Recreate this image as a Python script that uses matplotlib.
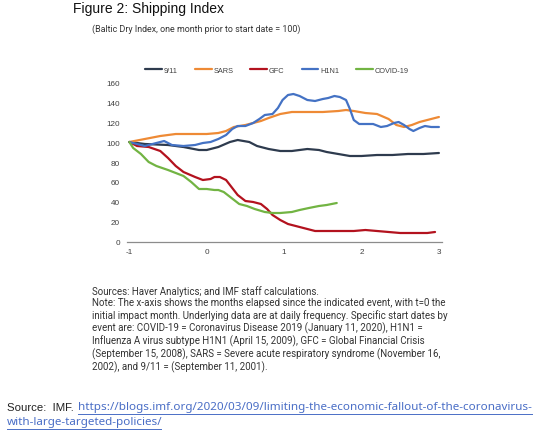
import matplotlib
matplotlib.use("Agg")
import matplotlib.pyplot as plt
import numpy as np

# ---- data (months since event, index value) ----
x_911 = [-1, -0.8, -0.5, -0.3, -0.1, 0, 0.15, 0.3, 0.4, 0.55, 0.65, 0.8, 0.95, 1.1, 1.2, 1.3, 1.45, 1.55, 1.7, 1.85, 2.0, 2.2, 2.4, 2.6, 2.8, 3.0]
y_911 = [100, 98, 97, 95, 92, 92, 95, 100, 102, 100, 96, 93, 91, 91, 92, 93, 92, 90, 88, 86, 86, 87, 87, 88, 88, 89]

x_sars = [-1, -0.8, -0.6, -0.4, -0.2, 0, 0.15, 0.25, 0.35, 0.5, 0.6, 0.7, 0.8, 0.95, 1.1, 1.3, 1.5, 1.7, 1.8, 1.9, 2.05, 2.2, 2.35, 2.45, 2.55, 2.65, 2.75, 2.9, 3.0]
y_sars = [100, 103, 106, 108, 108, 108, 109, 111, 115, 117, 119, 121, 124, 128, 130, 130, 130, 131, 132, 131, 129, 128, 123, 117, 115, 117, 120, 123, 125]

x_gfc = [-1, -0.9, -0.75, -0.6, -0.5, -0.4, -0.3, -0.15, -0.05, 0.05, 0.1, 0.17, 0.25, 0.32, 0.4, 0.5, 0.6, 0.7, 0.78, 0.85, 0.95, 1.05, 1.15, 1.25, 1.4, 1.5, 1.7, 1.9, 2.05, 2.2, 2.35, 2.5, 2.7, 2.85, 2.95]
y_gfc = [100, 96, 95, 91, 84, 76, 70, 65, 62, 63, 65, 65, 62, 55, 47, 41, 40, 38, 33, 27, 22, 18, 16, 14, 11, 11, 11, 11, 12, 11, 10, 9, 9, 9, 10]

x_h1n1 = [-1, -0.9, -0.8, -0.7, -0.55, -0.45, -0.3, -0.15, -0.05, 0.05, 0.15, 0.25, 0.33, 0.4, 0.5, 0.6, 0.68, 0.75, 0.85, 0.92, 0.98, 1.05, 1.12, 1.2, 1.3, 1.4, 1.5, 1.57, 1.65, 1.72, 1.8, 1.85, 1.9, 1.97, 2.05, 2.15, 2.25, 2.33, 2.42, 2.48, 2.55, 2.62, 2.67, 2.75, 2.82, 2.9, 3.0]
y_h1n1 = [100, 98, 96, 98, 101, 97, 96, 97, 99, 100, 103, 107, 113, 116, 116, 119, 123, 127, 128, 134, 142, 147, 148, 146, 142, 141, 143, 144, 146, 145, 142, 133, 122, 118, 118, 118, 115, 116, 119, 120, 117, 113, 111, 114, 116, 115, 115]

x_covid = [-1, -0.95, -0.85, -0.75, -0.65, -0.5, -0.4, -0.3, -0.2, -0.1, 0, 0.1, 0.15, 0.22, 0.32, 0.42, 0.52, 0.62, 0.75, 0.85, 0.95, 1.1, 1.2, 1.32, 1.45, 1.55, 1.68]
y_covid = [100, 94, 88, 80, 76, 72, 69, 66, 60, 53, 53, 52, 52, 50, 44, 38, 36, 33, 30, 29, 29, 30, 32, 34, 36, 37, 39]

series_names = ["9/11", "SARS", "GFC", "H1N1", "COVID-19"]
series_colors = ["#2E3B4E", "#EE8A35", "#B3121E", "#4472C4", "#72B443"]
x_ticks = [-1, 0, 1, 2, 3]
y_ticks = [0, 20, 40, 60, 80, 100, 120, 140, 160]

title = "Figure 2: Shipping Index"
subtitle = "(Baltic Dry Index, one month prior to start date = 100)"
notes = ("Sources: Haver Analytics; and IMF staff calculations.\n"
         "Note: The x-axis shows the months elapsed since the indicated event, with t=0 the\n"
         "initial impact month. Underlying data are at daily frequency. Specific start dates by\n"
         "event are: COVID-19 = Coronavirus Disease 2019 (January 11, 2020), H1N1 =\n"
         "Influenza A virus subtype H1N1 (April 15, 2009), GFC = Global Financial Crisis\n"
         "(September 15, 2008), SARS = Severe acute respiratory syndrome (November 16,\n"
         "2002), and 9/11 = (September 11, 2001).")
source_label = "Source:  IMF.  "
url1 = "https://blogs.imf.org/2020/03/09/limiting-the-economic-fallout-of-the-coronavirus-"
url2 = "with-large-targeted-policies/"

W, H = 544, 435
fig = plt.figure(figsize=(W / 100, H / 100), dpi=100)
fig.patch.set_facecolor("white")

def fx(px):
    return px / W

def fy(py):
    return 1 - py / H

ax = fig.add_axes([fx(127), fy(243), fx(442) - fx(127), fy(83) - fy(243)])
xs = [x_911, x_sars, x_gfc, x_h1n1, x_covid]
ys = [y_911, y_sars, y_gfc, y_h1n1, y_covid]
for xv, yv, name, col in zip(xs, ys, series_names, series_colors):
    ax.plot(xv, yv, color=col, lw=1.6, label=name, solid_capstyle="round")

ax.set_xlim(-1.03, 3.04)
ax.set_ylim(0, 160)
ax.set_xticks(x_ticks)
ax.set_xticklabels([str(t) for t in x_ticks])
ax.set_yticks(y_ticks)
for s in ["top", "right", "left"]:
    ax.spines[s].set_visible(False)
ax.spines["bottom"].set_color("#8C8C8C")
ax.spines["bottom"].set_linewidth(0.9)
ax.tick_params(axis="both", length=0, labelsize=5.9, colors="#404040", labelfontfamily="Liberation Sans")
ax.tick_params(axis="x", pad=4.5)
ax.tick_params(axis="y", pad=5)

axw = fx(442) - fx(127)
axh = fy(83) - fy(243)
leg = ax.legend(loc="center", bbox_to_anchor=((fx(277) - fx(127)) / axw, 1 + (fy(71) - fy(83)) / axh),
                ncol=5, frameon=False, handlelength=2.3, handletextpad=0.25,
                columnspacing=2.3, prop={"family": "Liberation Sans", "size": 5.3})
for t in leg.get_texts():
    t.set_color("#404040")

fig.text(fx(73), fy(9), title, fontsize=10, family="Liberation Sans", va="center", ha="left", color="#111111")
fig.text(fx(92), fy(29), subtitle, fontsize=6.4, family="Roboto", va="center", ha="left", color="#333333")
fig.text(fx(92), fy(286), notes, fontsize=7.05, family="Roboto", va="top", ha="left", color="#333333", linespacing=1.18)

fig.text(fx(7), fy(408), source_label, fontsize=8.2, family="Liberation Sans", va="center", ha="left", color="#222222")
fig.text(fx(78), fy(408), url1, fontsize=8.4, family="Noto Sans", va="center", ha="left", color="#4A6EC6")
fig.text(fx(7), fy(423), url2, fontsize=8.4, family="Noto Sans", va="center", ha="left", color="#4A6EC6")
fig.add_artist(plt.Line2D([fx(78), fx(532)], [fy(415), fy(415)], color="#4A6EC6", lw=0.7))
fig.add_artist(plt.Line2D([fx(7), fx(161)], [fy(430), fy(430)], color="#4A6EC6", lw=0.7))

fig.savefig("out.png", dpi=100, facecolor="white")
